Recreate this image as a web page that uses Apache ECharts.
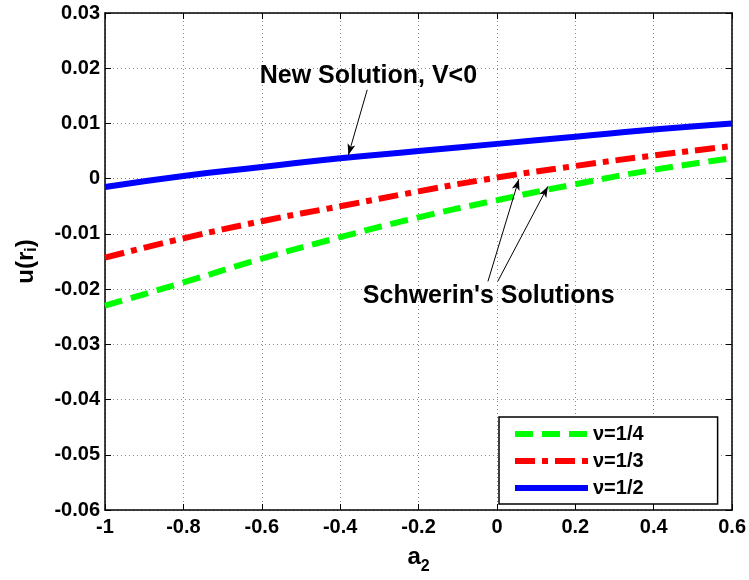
<!DOCTYPE html>
<html>
<head>
<meta charset="utf-8">
<script src="https://cdn.jsdelivr.net/npm/echarts@6/dist/echarts.min.js"></script>
<style>
  html, body { margin: 0; padding: 0; background: #fff; }
  #chart { width: 749px; height: 580px; }
</style>
</head>
<body>
<div id="chart"></div>
<script>
// Displacement u(r_i) against the coefficient a_2 for three Poisson ratios
const a2 = [-1, -0.8, -0.6, -0.4, -0.2, 0, 0.2, 0.4, 0.6];
const uNuQuarter = [-0.0230, -0.0188, -0.0145, -0.0106, -0.0070, -0.0039, -0.0010, 0.0016, 0.0037];
const uNuThird   = [-0.0143, -0.0108, -0.0077, -0.0050, -0.0023, 0.0002, 0.0023, 0.0042, 0.0059];
const uNuHalf    = [-0.0015, 0.0005, 0.0021, 0.0037, 0.0050, 0.0063, 0.0076, 0.0089, 0.0100];
const seriesNames = ['ν=1/4', 'ν=1/3', 'ν=1/2'];

// Axis ranges
const xRange = { min: -1, max: 0.6, step: 0.2 };
const yRange = { min: -0.06, max: 0.03, step: 0.01 };

// Annotation texts and arrows, in data coordinates
const newSolutionText = { text: 'New Solution, V<0', at: [-0.328, 0.0186] };
const newSolutionArrows = [[[-0.331, 0.0161], [-0.379, 0.0043]]];
const schwerinText = { text: "Schwerin's Solutions", at: [-0.021, -0.0213] };
const schwerinArrows = [
  [[-0.023, -0.0186], [0.056, -0.0001]],
  [[0.002, -0.0186], [0.130, -0.0014]]
];

const FONT = '"Liberation Sans", Arial, Helvetica, sans-serif';

const pairs = (ys) => a2.map((x, i) => [x, ys[i]]);
const arrowLines = (list) => list.map(([p, q]) => [{ coord: p }, { coord: q }]);

const chart = echarts.init(document.getElementById('chart'), null, { renderer: 'canvas' });

const tickStyle = { show: true, inside: true, length: 6, lineStyle: { color: '#000', width: 1 } };
const axisLineStyle = { show: true, onZero: false, lineStyle: { color: '#000', width: 1.5 } };
const gridLineStyle = { show: true, lineStyle: { color: '#8a8a8a', width: 1, type: [1, 3] } };

function mkSeries(name, ys, color, type, arrows) {
  const s = {
    name: name,
    type: 'line',
    data: pairs(ys),
    smooth: true,
    symbol: 'none',
    lineStyle: { color: color, width: 6, type: type, cap: 'butt' },
    itemStyle: { color: color },
    animation: false,
    z: 3
  };
  if (arrows) {
    s.markLine = {
      silent: true,
      animation: false,
      symbol: ['none', 'arrow'],
      symbolSize: [6, 11],
      label: { show: false },
      lineStyle: { color: '#000', width: 1, type: 'solid' },
      emphasis: { disabled: true },
      data: arrowLines(arrows)
    };
  }
  return s;
}

const option = {
  backgroundColor: '#fff',
  animation: false,
  grid: { left: 105, right: 15, top: 13, bottom: 63, containLabel: false },
  legend: {
    orient: 'vertical',
    left: 499,
    top: 417,
    data: seriesNames,
    backgroundColor: '#fff',
    borderColor: '#000',
    borderWidth: 1.5,
    borderRadius: 0,
    padding: [7, 74, 6, 13],
    itemWidth: 73,
    itemHeight: 14,
    itemGap: 7,
    selectedMode: false,
    lineStyle: { width: 6 },
    itemStyle: { opacity: 0 },
    textStyle: { fontFamily: FONT, fontWeight: 'bold', fontSize: 20, color: '#000', lineHeight: 20 },
    z: 10
  },
  xAxis: [{
    type: 'value',
    min: xRange.min, max: xRange.max, interval: xRange.step,
    position: 'bottom',
    axisLine: axisLineStyle,
    axisTick: tickStyle,
    splitLine: gridLineStyle,
    axisLabel: {
      margin: 7,
      fontFamily: FONT, fontWeight: 'bold', fontSize: 20, color: '#000',
      formatter: (v) => String(Math.round(v * 10) / 10)
    },
    name: '{a|a}{s|2}',
    nameLocation: 'middle',
    nameGap: 35,
    nameTextStyle: {
      rich: {
        a: { fontFamily: FONT, fontWeight: 'bold', fontSize: 24, color: '#000', verticalAlign: 'top' },
        s: { fontFamily: FONT, fontWeight: 'bold', fontSize: 16, color: '#000', padding: [14, 0, 0, 0] }
      }
    }
  }, {
    type: 'value',
    min: xRange.min, max: xRange.max, interval: xRange.step,
    position: 'top',
    axisLine: axisLineStyle,
    axisTick: tickStyle,
    splitLine: { show: false },
    axisLabel: { show: false }
  }],
  yAxis: [{
    type: 'value',
    min: yRange.min, max: yRange.max, interval: yRange.step,
    position: 'left',
    axisLine: axisLineStyle,
    axisTick: tickStyle,
    splitLine: gridLineStyle,
    axisLabel: {
      margin: 5,
      fontFamily: FONT, fontWeight: 'bold', fontSize: 20, color: '#000',
      formatter: (v) => {
        const r = Math.round(v * 100) / 100;
        return r === 0 ? '0' : r.toFixed(2);
      }
    },
    name: '{u|u(r}{s|i}{u|)}',
    nameLocation: 'middle',
    nameGap: 65,
    nameRotate: 90,
    nameTextStyle: {
      rich: {
        u: { fontFamily: FONT, fontWeight: 'bold', fontSize: 24, color: '#000' },
        s: { fontFamily: FONT, fontWeight: 'bold', fontSize: 16, color: '#000', padding: [12, 0, 0, 0] }
      }
    }
  }, {
    type: 'value',
    min: yRange.min, max: yRange.max, interval: yRange.step,
    position: 'right',
    axisLine: axisLineStyle,
    axisTick: tickStyle,
    splitLine: { show: false },
    axisLabel: { show: false }
  }],
  series: [
    mkSeries(seriesNames[0], uNuQuarter, '#00ff00', [18, 9], null),
    mkSeries(seriesNames[1], uNuThird, '#ff0000', [20, 7, 6, 7], schwerinArrows),
    mkSeries(seriesNames[2], uNuHalf, '#0000ff', 'solid', newSolutionArrows)
  ]
};

chart.setOption(option);

// Place the annotation texts at their data positions
function annotationText(item) {
  const p = chart.convertToPixel({ xAxisIndex: 0, yAxisIndex: 0 }, item.at);
  return {
    type: 'text',
    x: p[0], y: p[1],
    z: 20,
    style: {
      text: item.text,
      fontFamily: FONT, fontWeight: 'bold', fontSize: 25, fill: '#000',
      align: 'center', verticalAlign: 'middle'
    }
  };
}
chart.setOption({ graphic: [annotationText(newSolutionText), annotationText(schwerinText)] });
</script>
</body>
</html>
